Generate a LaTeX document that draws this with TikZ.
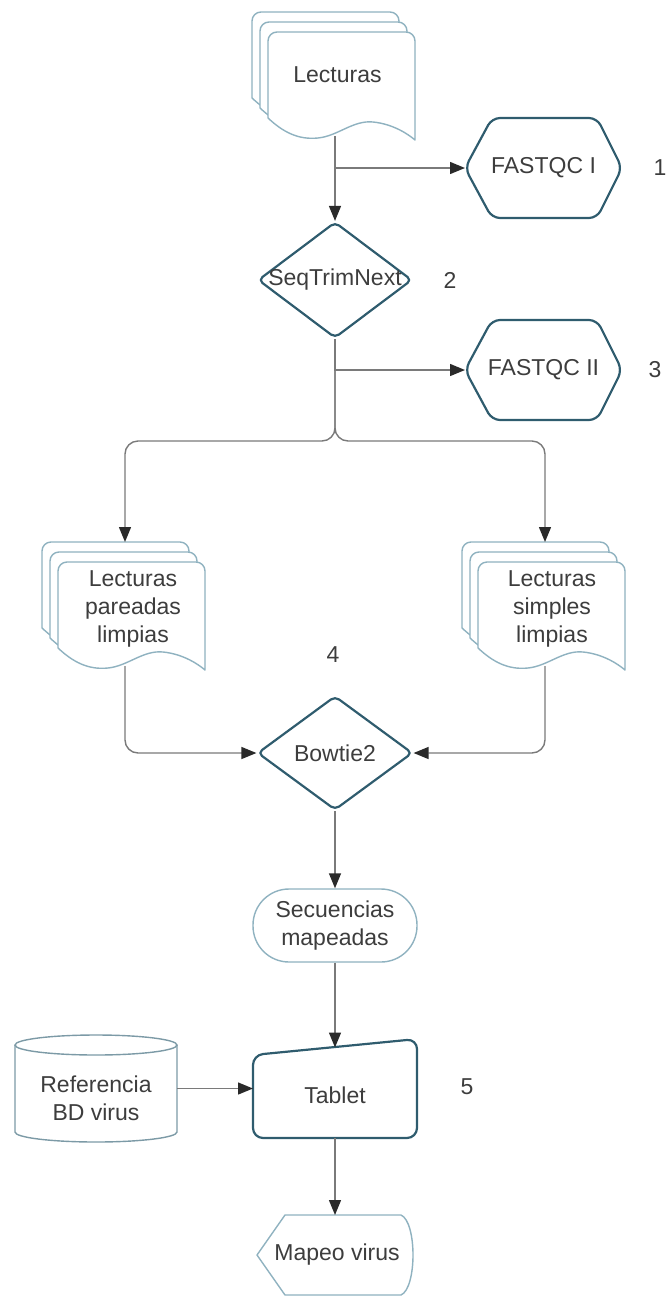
\documentclass[tikz,border=0pt]{standalone}
\usepackage{fontspec}
\setmainfont{Liberation Sans}
\usetikzlibrary{shapes.geometric, arrows.meta, calc}
\definecolor{procblue}{HTML}{2F5C6E}
\definecolor{docblue}{HTML}{8FB2C0}
\definecolor{cylblue}{HTML}{7C9AA6}
\definecolor{conngray}{HTML}{7A7A7A}
\definecolor{tipdark}{HTML}{2A2A2A}
\definecolor{textgray}{HTML}{3D3D3D}
\newcommand{\mydoc}[2]{%
  \begin{scope}[shift={(#1,#2)}]
    \foreach \dx/\dy in {-16/-20,-8/-10,0/0} {
      \draw[docline, shift={(\dx,\dy)}] (0,86) [rounded corners=9pt] -- (0,0) -- (147,0) [sharp corners] -- (147,108)
        .. controls (140,102) and (125,92) .. (105,90)
        .. controls (85,88) and (70,104) .. (50,106)
        .. controls (30,108) and (15,100) .. (0,86) -- cycle;
    }
  \end{scope}}
\begin{document}
\begin{tikzpicture}[x=1pt,y=-1pt,
  txt/.style={font=\fontsize{23}{28}\selectfont, text=textgray, align=center, inner sep=0pt},
  box/.style={draw=none, inner sep=0pt, outer sep=0pt},
  procline/.style={draw=procblue, line width=2.2pt, line join=round},
  docline/.style={draw=docblue, line width=1.4pt, fill=white, line join=round},
  cylline/.style={draw=cylblue, line width=1.4pt},
  conn/.style={draw=conngray, line width=1.4pt, -{Triangle[length=15pt,width=12pt,color=tipdark]}},
]
\useasboundingbox (0,0) rectangle (667,1299);

% documents
\mydoc{268}{32}
\node[box, minimum width=147pt, minimum height=108pt, label={[txt,xshift=-4pt,yshift=11pt]center:Lecturas}] (lec) at (341.5,86) {};
\coordinate (lecout) at (335,136);

\mydoc{58}{562}
\node[box, minimum width=147pt, minimum height=108pt, label={[txt,xshift=1.5pt,yshift=7.5pt]center:Lecturas\\pareadas\\limpias}] (pl) at (131.5,616) {};
\coordinate (plin) at (125,542);
\coordinate (plout) at (125,666);

\mydoc{478}{562}
\node[box, minimum width=147pt, minimum height=108pt, label={[txt,xshift=0.5pt,yshift=7.5pt]center:Lecturas\\simples\\limpias}] (ps) at (551.5,616) {};
\coordinate (psin) at (545,542);
\coordinate (psout) at (545,666);

% hexagons
\node[box, txt, minimum width=157pt, minimum height=100pt] (fq1) at (543.5,168) {FASTQC I};
\draw[procline, rounded corners=8pt] (544,118) -- (597,118) -- (622,168) -- (597,218) -- (492,218) -- (465,168) -- (492,118) -- cycle;
\node[box, txt, minimum width=157pt, minimum height=100pt] (fq2) at (543.5,370) {FASTQC II};
\draw[procline, rounded corners=8pt] (544,320) -- (597,320) -- (622,370) -- (597,420) -- (492,420) -- (465,370) -- (492,320) -- cycle;

% diamonds
\node[diamond, procline, rounded corners=5pt, minimum width=154pt, minimum height=116pt, inner sep=0pt, label={[txt]center:SeqTrimNext}] (seq) at (335,280) {};
\node[diamond, procline, rounded corners=5pt, minimum width=155pt, minimum height=114pt, inner sep=0pt, label={[txt]center:Bowtie2}] (bow) at (335,753) {};

% terminator
\node[docline, rounded corners=36pt, minimum width=164pt, minimum height=73pt, txt] (sec) at (335,925.5) {Secuencias\\mapeadas};

% tablet
\node[box, minimum width=164pt, minimum height=99pt, label={[txt,yshift=-6.5pt]center:Tablet}] (tab) at (335,1088.5) {};
\draw[procline, rounded corners=10pt] (335,1047) -- (417,1039) -- (417,1138) -- (253,1138) -- (253,1055) -- cycle;

% cylinder
\draw[cylline, fill=white] (15,1045) -- (15,1132) arc[start angle=180, end angle=360, x radius=81pt, y radius=10pt] -- (177,1045);
\draw[cylline] (96,1045) ellipse [x radius=81pt, y radius=10pt];
\node[box, minimum width=162pt, minimum height=107pt, label={[txt,yshift=-10pt]center:Referencia\\BD virus}] (ref) at (96,1088.5) {};

% display
\draw[docline] (285,1215) -- (401,1215) .. controls (417,1222) and (417,1288) .. (401,1295) -- (285,1295) -- (257,1255) -- cycle;
\node[box, minimum width=156pt, minimum height=80pt, label={[txt,xshift=2pt]center:Mapeo virus}] (map) at (335,1255) {};

% numbers
\node[txt] (n1) at (660,168) {1};
\node[txt] (n2) at (450,280) {2};
\node[txt] (n3) at (655,370) {3};
\node[txt] (n4) at (333,655) {4};
\node[txt] (n5) at (467,1087) {5};

% connectors
\coordinate (split) at (335,441);
\draw[conn] (lecout) |- (fq1.west);
\draw[conn] (lecout) -- (seq.north);
\draw[conn] (seq.south) |- (fq2.west);
\draw[conn, rounded corners=13pt] (seq.south) -- (split) -| (plin);
\draw[conn, rounded corners=13pt] (seq.south) -- (split) -| (psin);
\draw[conn, rounded corners=13pt] (plout) |- (bow.west);
\draw[conn, rounded corners=13pt] (psout) |- (bow.east);
\draw[conn] (bow.south) -- (sec.north);
\draw[conn] (sec.south) -- ($(tab.north)+(0,8.5)$);
\draw[conn] (ref.east) -- (tab.west);
\draw[conn] (tab.south) -- (map.north);
\end{tikzpicture}
\end{document}
